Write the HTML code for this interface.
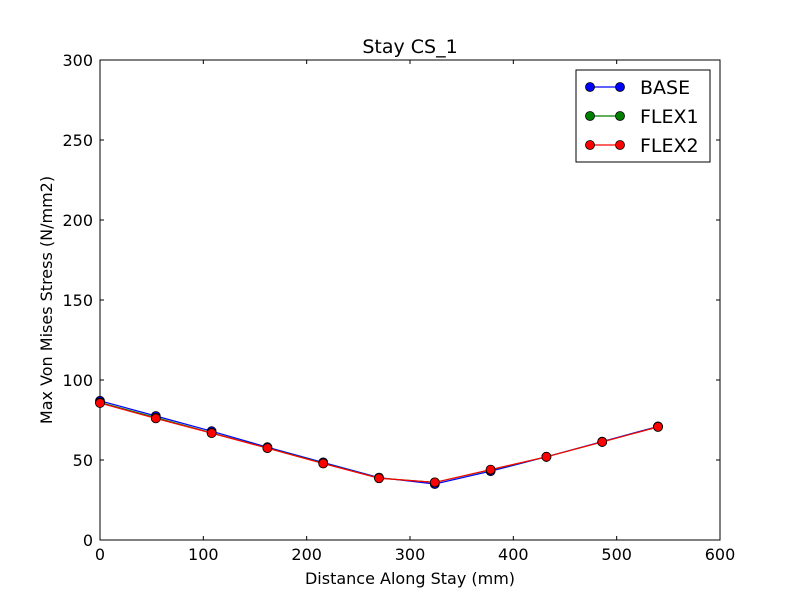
<!DOCTYPE html>
<html><head><meta charset="utf-8"><style>body{margin:0;background:#fff}svg{display:block}text{font-family:"DejaVu Sans","Liberation Sans",sans-serif}</style></head>
<body>
<svg id="chart" width="800" height="600" viewBox="0 0 800 600"></svg>
<script>
const xValues=[0,54,108,162,216,270,324,378,432,486,540];
const baseValues=[87,77.5,68,58,48.5,39,35,43,52,61.5,71];
const flex1Values=[86,76.5,67,57.5,48,38.7,36,43.8,52,61.3,70.7];
const flex2Values=[85.6,76,66.8,57.4,47.8,38.6,36,44,52,61.3,70.7];
const xTicks=[0,100,200,300,400,500,600];
const yTicks=[0,50,100,150,200,250,300];
const L=100,R=720,T=60,B=540;
const sx=v=>L+v/600*(R-L), sy=v=>B-v/300*(B-T);
const svg=document.getElementById('chart');const NS='http://www.w3.org/2000/svg';
function mk(tag,attrs,parent){const e=document.createElementNS(NS,tag);for(const k in attrs)e.setAttribute(k,attrs[k]);(parent||svg).appendChild(e);return e;}
const frame=mk('rect',{x:L,y:T,width:R-L,height:B-T,fill:'none',stroke:'#000','stroke-width':1});


xTicks.forEach(v=>{const x=sx(v);
mk('line',{x1:x,x2:x,y1:B,y2:B-4,stroke:'#000'});mk('line',{x1:x,x2:x,y1:T,y2:T+4,stroke:'#000'});
const t=mk('text',{x:x,y:B+20,'text-anchor':'middle','font-size':16});t.textContent=v;

});
yTicks.forEach(v=>{const y=sy(v);
mk('line',{x1:L,x2:L+4,y1:y,y2:y,stroke:'#000'});mk('line',{x1:R,x2:R-4,y1:y,y2:y,stroke:'#000'});
const t=mk('text',{x:L-7,y:y+6,'text-anchor':'end','font-size':16});t.textContent=v;

});
const series=[['BASE',baseValues,'#0000ff'],['FLEX1',flex1Values,'#008000'],['FLEX2',flex2Values,'#ff0000']];
series.forEach(([name,vals,col])=>{
const g=mk('g',{});


mk('polyline',{points:vals.map((v,i)=>sx(xValues[i])+','+sy(v)).join(' '),fill:'none',stroke:col,'stroke-width':1.2},g);
vals.forEach((v,i)=>{const c=mk('circle',{cx:sx(xValues[i]),cy:sy(v),r:4.5,fill:col,stroke:'#000','stroke-width':0.8},g);

});});
const title=mk('text',{x:410,y:53,'text-anchor':'middle','font-size':19});title.textContent='Stay CS_1';


const xt=mk('text',{x:410,y:584,'text-anchor':'middle','font-size':16});xt.textContent='Distance Along Stay (mm)';


const yt=mk('text',{x:52,y:300,'text-anchor':'middle','font-size':16,transform:'rotate(-90 52 300)'});yt.textContent='Max Von Mises Stress (N/mm2)';


const lg=mk('g',{});


mk('rect',{x:576,y:70,width:134,height:92,fill:'#fff',stroke:'#000'},lg);
series.forEach(([name,vals,col],i)=>{const y=87+i*29;
const e=mk('g',{},lg);


mk('line',{x1:590,x2:620,y1:y,y2:y,stroke:col,'stroke-width':1.2},e);
mk('circle',{cx:590,cy:y,r:4.5,fill:col,stroke:'#000','stroke-width':0.8},e);
mk('circle',{cx:620,cy:y,r:4.5,fill:col,stroke:'#000','stroke-width':0.8},e);
const t=mk('text',{x:640,y:y+7,'font-size':19},e);t.textContent=name;});
</script>
</body></html>
